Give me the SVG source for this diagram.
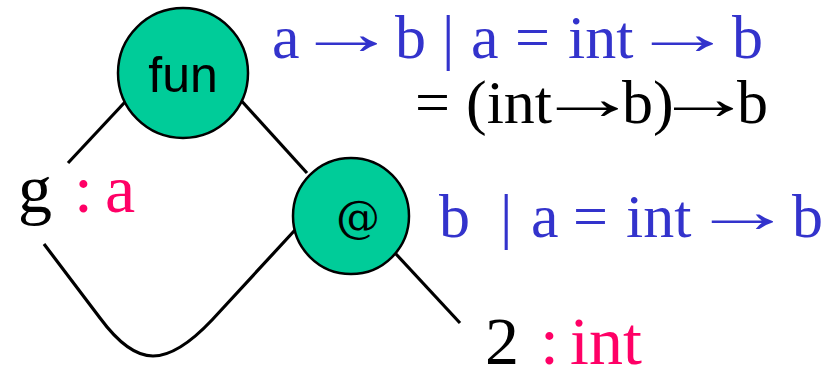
<svg xmlns="http://www.w3.org/2000/svg" width="827" height="375" viewBox="0 0 827 375">
<style>
.node{fill:#00CC99;stroke:#000;stroke-width:2.5}
.edge{fill:none;stroke:#000;stroke-width:3.2}
.sans{font-family:"Liberation Sans",Arial,sans-serif;fill:#000}
.serif{font-family:"Liberation Serif","Times New Roman",serif;font-size:62px}
.arr{font-family:"Liberation Serif","Times New Roman",serif;font-size:62px}
.blue{fill:#3333CC}
.black{fill:#000}
.pink{fill:#FF0066}
</style>
<rect width="827" height="375" fill="#fff"/>
<g id="connectors">
<line class="edge" x1="68" y1="163" x2="125" y2="102"/>
<line class="edge" x1="238" y1="97" x2="307" y2="173"/>
<line class="edge" x1="395" y1="253" x2="460" y2="323"/>
<path class="edge" d="M44,244 L100,318 Q128,356 153,356 Q178,356 212,320 L295,230"/>
</g>
<g id="node-fun">
<circle class="node" cx="183" cy="73" r="65"/>
<text class="sans" x="183" y="92" font-size="50" text-anchor="middle">fun</text>
</g>
<g id="node-app">
<circle class="node" cx="351" cy="216" r="58"/>
<text x="358" y="232" style="font-family:'DejaVu Serif','Liberation Serif',serif;font-size:44px;fill:#000" text-anchor="middle">@</text>
</g>
<g id="leaf-g">
<text class="serif" y="212" style="font-size:68px"><tspan class="black" x="18">g</tspan><tspan class="pink" x="74">:</tspan><tspan class="pink" x="105">a</tspan></text>
</g>
<g id="leaf-2">
<text class="serif" y="364" style="font-size:68px"><tspan class="black" x="485">2</tspan><tspan class="pink" x="540">:</tspan><tspan class="pink" x="570">int</tspan></text>
</g>
<g id="type-fun">
<text class="serif blue" y="58"><tspan x="272">a</tspan><tspan x="395">b</tspan><tspan x="442">|</tspan><tspan x="471">a</tspan><tspan x="515">=</tspan><tspan x="568">int</tspan><tspan x="732">b</tspan></text>
<text class="arr blue" transform="translate(295,54) scale(1.67,1)">→</text>
<text class="arr blue" transform="translate(631,54) scale(1.67,1)">→</text>
<text class="serif black" y="123"><tspan x="415">=</tspan><tspan x="466">(int</tspan><tspan x="622">b)</tspan><tspan x="737">b</tspan></text>
<text class="arr black" transform="translate(536,119) scale(1.67,1)">→</text>
<text class="arr black" transform="translate(654,119) scale(1.61,1)">→</text>
</g>
<g id="type-app">
<text class="serif blue" y="237"><tspan x="439">b</tspan><tspan x="500">|</tspan><tspan x="531">a</tspan><tspan x="573">=</tspan><tspan x="626">int</tspan><tspan x="792">b</tspan></text>
<text class="arr blue" transform="translate(691,232) scale(1.67,1)">→</text>
</g>
</svg>
